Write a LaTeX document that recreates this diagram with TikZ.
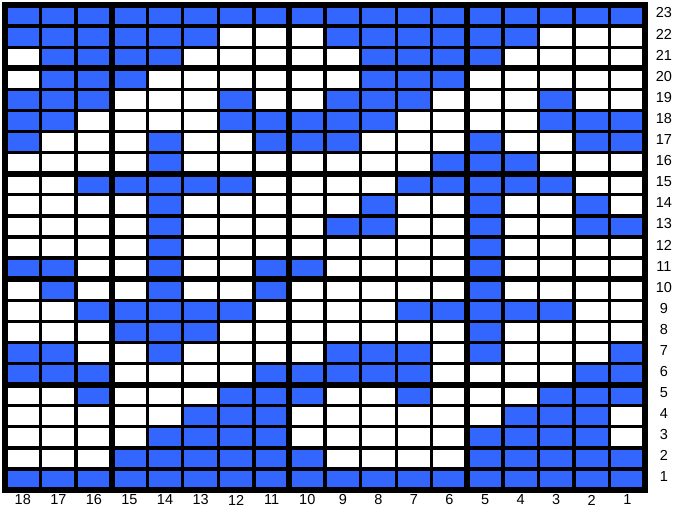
\documentclass[tikz,border=0pt]{standalone}
\usepackage{fontspec}
\setmainfont{Liberation Sans}
\definecolor{cellblue}{RGB}{51,102,255}
\begin{document}
\begin{tikzpicture}[x=35.56pt,y=21.09pt,
    bluecell/.style={fill=cellblue},
    thinline/.style={line width=3.3pt},
    thickline/.style={line width=6pt},
    numlabel/.style={font=\fontsize{14.5}{17}\selectfont,inner sep=0pt}]
      \fill[white] (-0.1406,-1.0906) rectangle (18.841,23.237);
      \useasboundingbox (-0.1406,-1.0906) rectangle (18.841,23.237);
      \foreach \r/\cs in {23/{1,...,18}, 22/{4,5,6,7,8,9,13,14,15,16,17,18},
          21/{5,6,7,8,14,15,16,17}, 20/{6,7,8,15,16,17},
          19/{3,7,8,9,12,16,17,18}, 18/{1,2,3,8,9,10,11,12,17,18},
          17/{1,2,5,9,10,11,14,18}, 16/{4,5,6,14},
          15/{3,4,5,6,7,12,13,14,15,16}, 14/{2,5,8,14},
          13/{1,2,5,8,9,14}, 12/{5,14}, 11/{5,10,11,14,17,18},
          10/{5,11,14,17}, 9/{3,4,5,6,7,12,13,14,15,16},
          8/{5,13,14,15}, 7/{1,5,7,8,9,14,17,18},
          6/{1,2,7,8,9,10,11,16,17,18}, 5/{1,2,3,7,10,11,12,16},
          4/{2,3,4,11,12,13}, 3/{2,3,4,5,11,12,13,14},
          2/{1,2,3,4,5,10,11,12,13,14,15}, 1/{1,...,18}}
        \foreach \c in \cs
          \fill[bluecell] (18-\c,\r-1) rectangle (19-\c,\r);
      \foreach \x in {1,...,17}
        \draw[thinline] (\x,0) -- (\x,23);
      \foreach \y in {1,...,22}
        \draw[thinline] (0,\y) -- (18,\y);
      \foreach \x in {3,8,13}
        \draw[thickline] (\x,0) -- (\x,23);
      \foreach \y in {5,10,15,20}
        \draw[thickline] (0,\y) -- (18,\y);
      \draw[line width=5.5pt] (0,0) rectangle (18,23);
      \foreach \r in {1,...,23}
        \node[numlabel] (row\r) at (18.53,\r-0.38) {\r};
      \foreach \c in {1,...,18}
        \node[numlabel] (col\c) at (18.5-\c,-0.47) {\c};
    \end{tikzpicture}
\end{document}
